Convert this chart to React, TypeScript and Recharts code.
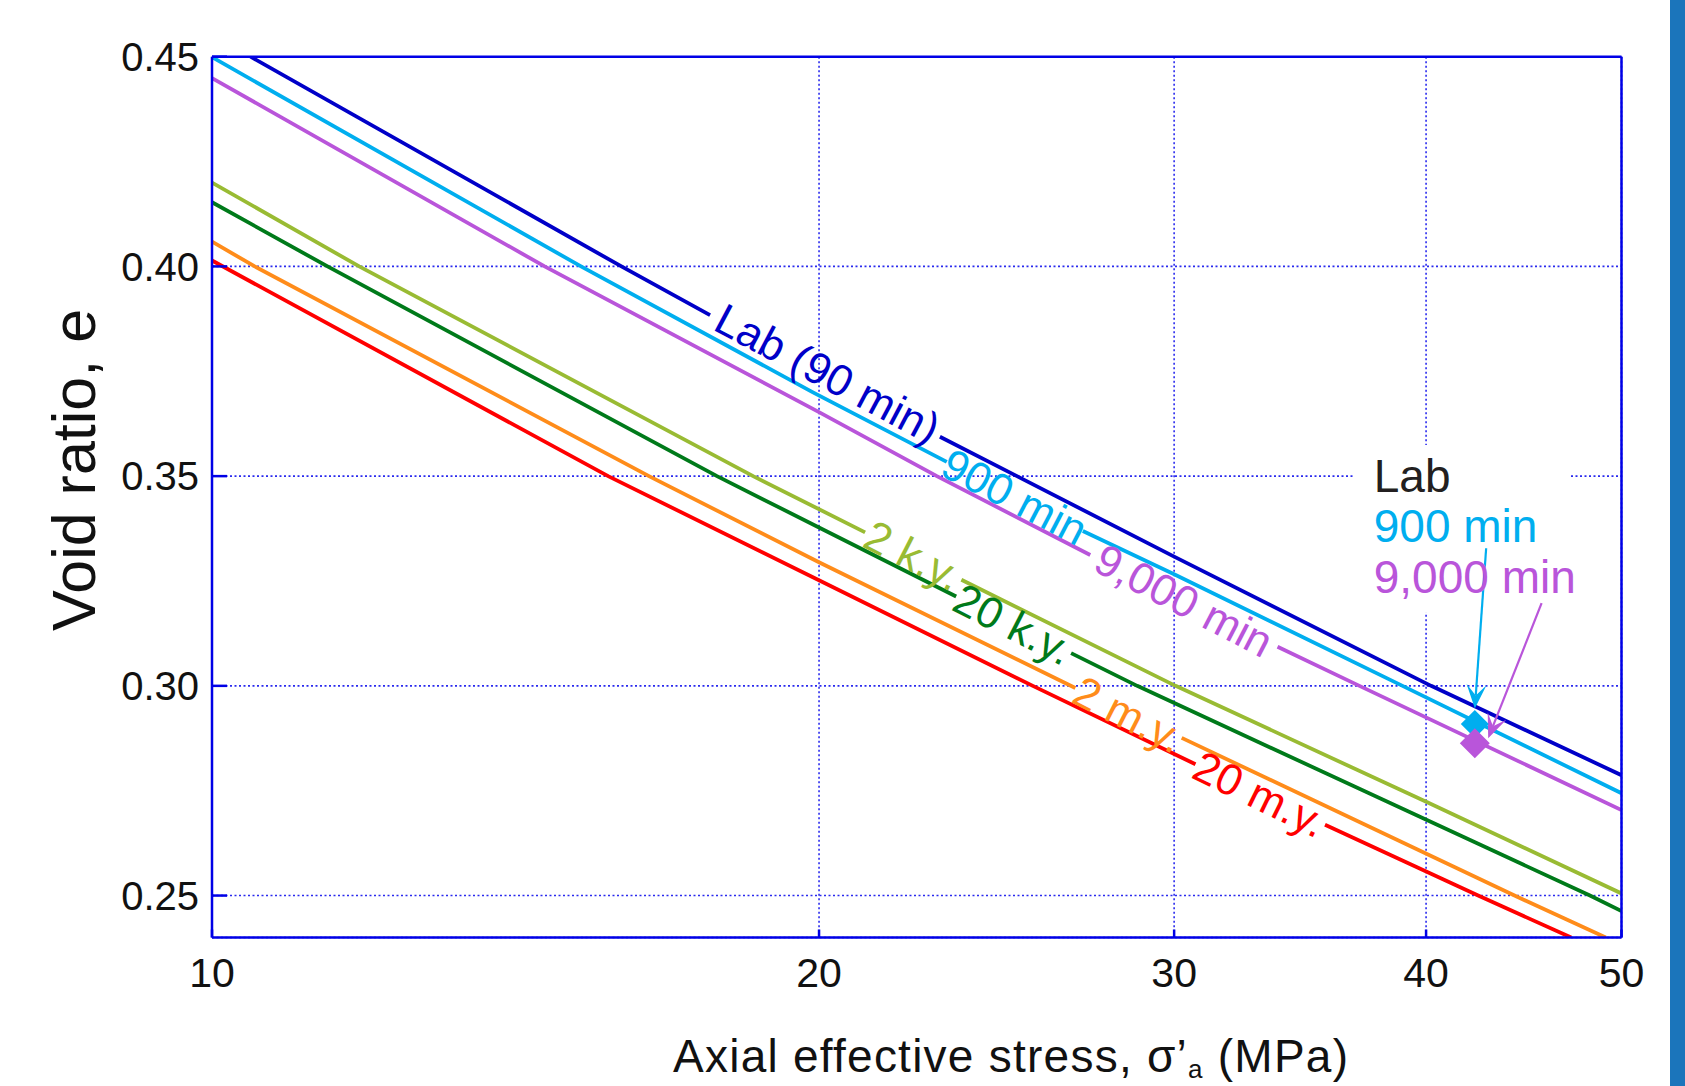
import React from 'react';
import {
  ComposedChart,
  Line,
  XAxis,
  YAxis,
  CartesianGrid,
  ReferenceDot,
  ReferenceLine,
  ReferenceArea,
  Scatter,
} from 'recharts';

// ---------- data ----------
const xTicks = [10, 20, 30, 40, 50];
const yTicks = [0.25, 0.3, 0.35, 0.4, 0.45];

// void ratio e vs axial effective stress s (MPa); null = break where the curve label sits
const lab90 = [
  { s: 10.45, e: 0.45 }, { s: 15.96, e: 0.4 }, { s: 17.66, e: 0.3884 }, { s: 20.1, e: null },
  { s: 22.96, e: 0.3594 }, { s: 25.07, e: 0.35 }, { s: 30.0, e: 0.3308 }, { s: 40.23, e: 0.3 },
  { s: 50.0, e: 0.2787 },
];
const min900 = [
  { s: 10.0, e: 0.4499 }, { s: 15.24, e: 0.4 }, { s: 19.84, e: 0.3701 }, { s: 23.14, e: 0.3534 },
  { s: 25.0, e: null }, { s: 27.03, e: 0.3369 }, { s: 30.0, e: 0.3266 }, { s: 38.94, e: 0.3 },
  { s: 50.0, e: 0.2744 },
];
const min9000 = [
  { s: 10.0, e: 0.4449 }, { s: 14.62, e: 0.4 }, { s: 20.01, e: 0.3652 }, { s: 22.88, e: 0.35 },
  { s: 27.26, e: 0.3312 }, { s: 30.0, e: null }, { s: 33.76, e: 0.3093 }, { s: 37.07, e: 0.3 },
  { s: 50.0, e: 0.2704 },
];
const ky2 = [
  { s: 10.0, e: 0.42 }, { s: 11.83, e: 0.4 }, { s: 18.55, e: 0.35 }, { s: 21.08, e: 0.3366 },
  { s: 22.3, e: null }, { s: 23.53, e: 0.3253 }, { s: 30.05, e: 0.3 }, { s: 40.03, e: 0.2723 },
  { s: 50.0, e: 0.2505 },
];
const ky20 = [
  { s: 10.0, e: 0.4153 }, { s: 11.41, e: 0.4 }, { s: 17.8, e: 0.35 }, { s: 20.01, e: 0.3377 },
  { s: 23.39, e: 0.3213 }, { s: 25.0, e: null }, { s: 26.67, e: 0.3078 }, { s: 28.76, e: 0.3 },
  { s: 48.23, e: 0.25 }, { s: 50.0, e: 0.2463 },
];
const my2 = [
  { s: 10.0, e: 0.4059 }, { s: 10.5, e: 0.4 }, { s: 16.47, e: 0.35 }, { s: 20.01, e: 0.3294 },
  { s: 26.8, e: 0.2995 }, { s: 28.5, e: null }, { s: 30.26, e: 0.2876 }, { s: 44.25, e: 0.25 },
  { s: 49.11, e: 0.24 },
];
const my20 = [
  { s: 10.0, e: 0.4014 }, { s: 15.72, e: 0.35 }, { s: 20.01, e: 0.3251 }, { s: 25.53, e: 0.3 },
  { s: 30.74, e: 0.2813 }, { s: 33.0, e: null }, { s: 35.64, e: 0.2669 }, { s: 42.45, e: 0.25 },
  { s: 47.21, e: 0.24 },
];

// lab measurements (diamonds)
const point900 = [{ s: 42.29, e: 0.2909 }];
const point9000 = [{ s: 42.29, e: 0.2863 }];

// callout arrows: [from, to]
const arrow900 = [{ s: 42.84, e: 0.3328 }, { s: 42.29, e: 0.2946 }];
const arrow9000 = [{ s: 45.64, e: 0.3197 }, { s: 42.94, e: 0.2875 }];

// curve label texts and where they sit on their curves
const curveNames = ['Lab (90 min)', '900 min', '9,000 min', '2 k.y.', '20 k.y.', '2 m.y.', '20 m.y.'];
const labelAnchorS = [20.2, 25.01, 30.34, 22.27, 24.97, 28.48, 33.09];
const labelAnchorE = [0.3745, 0.3451, 0.3204, 0.3311, 0.3147, 0.2932, 0.2742];

// inset legend
const legendNames = ['Lab', '900 min', '9,000 min'];
const legendAnchor = { s: 37.68, e: 0.3463 };
const legendBoxS = [36.88, 47.1];
const legendBoxE = [0.3174, 0.3574];

// ---------- styles ----------
const FONT = '"Liberation Sans", Arial, Helvetica, sans-serif';
const AXIS_BLUE = '#0000e6';
const GRID_BLUE = '#2a2aee';
const colors = ['#0000c8', '#00aeef', '#b955da', '#99bb33', '#007a1a', '#ff8c1a', '#ff0000'];
const labelAngles = [28, 27.5, 27.5, 27, 27, 27, 26];
const seriesData = [lab90, min900, min9000, ky2, ky20, my2, my20];

const Diamond = (half: number, fill: string) => (p: any) => {
  const { cx, cy } = p;
  if (cx == null || cy == null) return <g />;
  return (
    <polygon
      points={`${cx},${cy - half} ${cx + half},${cy} ${cx},${cy + half} ${cx - half},${cy}`}
      fill={fill}
    />
  );
};

const Arrow = (color: string) => (p: any) => {
  const x1 = Number(p.x1), y1 = Number(p.y1), x2 = Number(p.x2), y2 = Number(p.y2);
  const dx = x2 - x1, dy = y2 - y1;
  const len = Math.hypot(dx, dy) || 1;
  const ux = dx / len, uy = dy / len;
  const px = -uy, py = ux;
  const L = 24, W = 10, N = 13;
  const bx = x2 - ux * L, by = y2 - uy * L;
  const nx = x2 - ux * N, ny = y2 - uy * N;
  return (
    <g>
      <line x1={x1} y1={y1} x2={nx} y2={ny} stroke={color} strokeWidth={2.2} />
      <polygon
        points={`${x2},${y2} ${bx + px * W},${by + py * W} ${nx},${ny} ${bx - px * W},${by - py * W}`}
        fill={color}
      />
    </g>
  );
};

const CurveLabel = (text: string, color: string, angle: number) => (p: any) => {
  const { cx, cy } = p;
  return (
    <text
      x={cx}
      y={cy}
      transform={`rotate(${angle} ${cx} ${cy})`}
      textAnchor="middle"
      dominantBaseline="central"
      fill={color}
      fontSize={44}
      fontFamily={FONT}
    >
      {text}
    </text>
  );
};

const LegendText = (p: any) => {
  const { cx, cy } = p;
  const fills = ['#231f20', colors[1], colors[2]];
  const steps = [0, 50, 101.6];
  return (
    <g>
      {legendNames.map((n, i) => (
        <text key={n} x={cx} y={cy + steps[i]} fill={fills[i]} fontSize={46} fontFamily={FONT}>
          {n}
        </text>
      ))}
    </g>
  );
};

const XTitle = (props: any) => {
  const vb = props.viewBox || { x: 212, y: 937.5, width: 1409.5, height: 100 };
  return (
    <text
      x={vb.x + 461}
      y={vb.y + 134.5}
      fill="#111111"
      fontSize={46}
      fontFamily={FONT}
      textLength={675}
      lengthAdjust="spacing"
    >
      Axial effective stress, σ’
      <tspan dy={6} fontSize={26}>a</tspan>
      <tspan dy={-6}> (MPa)</tspan>
    </text>
  );
};

const YTitle = (props: any) => {
  const vb = props.viewBox || { x: 62, y: 56.7, width: 150, height: 880.8 };
  const x = vb.x + 32.5;
  const y = vb.y + 413.3;
  return (
    <text
      x={x}
      y={y}
      transform={`rotate(-90 ${x} ${y})`}
      textAnchor="middle"
      fill="#111111"
      fontSize={61}
      fontFamily={FONT}
    >
      Void ratio, e
    </text>
  );
};

export default function App() {
  return (
    <div style={{ position: 'absolute', left: 0, top: 0, width: 1685, height: 1086, background: '#ffffff' }}>
      <ComposedChart
        width={1685}
        height={1086}
        margin={{ top: 26.7, right: 33.5, bottom: 48.5, left: 62 }}
      >
        <CartesianGrid stroke={GRID_BLUE} strokeWidth={1.6} strokeDasharray="2 2.5" />
        <XAxis
          xAxisId={0}
          dataKey="s"
          type="number"
          scale="log"
          domain={[10, 50]}
          ticks={xTicks}
          interval={0}
          allowDataOverflow
          height={100}
          tickSize={-8}
          tickMargin={28.5}
          axisLine={{ stroke: AXIS_BLUE, strokeWidth: 2.5 }}
          tickLine={{ stroke: AXIS_BLUE, strokeWidth: 2.5 }}
          tick={{ fill: '#111111', fontSize: 41, fontFamily: FONT }}
          label={(p: any) => <XTitle {...p} />}
        />
        <XAxis
          xAxisId="top"
          orientation="top"
          dataKey="s"
          type="number"
          scale="log"
          domain={[10, 50]}
          ticks={xTicks}
          interval={0}
          allowDataOverflow
          height={30}
          tickSize={-8}
          axisLine={{ stroke: AXIS_BLUE, strokeWidth: 2.5 }}
          tickLine={{ stroke: AXIS_BLUE, strokeWidth: 2.5 }}
          tick={false}
        />
        <YAxis
          yAxisId={0}
          type="number"
          domain={[0.24, 0.45]}
          ticks={yTicks}
          interval={0}
          allowDataOverflow
          width={150}
          tickSize={-15}
          tickMargin={28}
          tickFormatter={(v: number) => v.toFixed(2)}
          axisLine={{ stroke: AXIS_BLUE, strokeWidth: 2.5 }}
          tickLine={{ stroke: AXIS_BLUE, strokeWidth: 2.5 }}
          tick={{ fill: '#111111', fontSize: 40, fontFamily: FONT }}
          label={(p: any) => <YTitle {...p} />}
        />
        <YAxis
          yAxisId="right"
          orientation="right"
          type="number"
          domain={[0.24, 0.45]}
          ticks={yTicks}
          interval={0}
          allowDataOverflow
          width={30}
          tickSize={-15}
          axisLine={{ stroke: AXIS_BLUE, strokeWidth: 2.5 }}
          tickLine={{ stroke: AXIS_BLUE, strokeWidth: 2.5 }}
          tick={false}
        />

        <ReferenceArea
          x1={legendBoxS[0]}
          x2={legendBoxS[1]}
          y1={legendBoxE[0]}
          y2={legendBoxE[1]}
          fill="#ffffff"
          fillOpacity={1}
          stroke="none"
          ifOverflow="visible"
        />

        {seriesData.map((d, i) => (
          <Line
            key={curveNames[i]}
            data={d}
            dataKey="e"
            type="linear"
            stroke={colors[i]}
            strokeWidth={3.8}
            dot={false}
            activeDot={false}
            connectNulls={false}
            isAnimationActive={false}
          />
        ))}

        {curveNames.map((n, i) => (
          <ReferenceDot
            key={'lbl' + n}
            x={labelAnchorS[i]}
            y={labelAnchorE[i]}
            shape={CurveLabel(n, colors[i], labelAngles[i])}
          />
        ))}

        <ReferenceDot x={legendAnchor.s} y={legendAnchor.e} shape={LegendText} />

        <Scatter data={point900} dataKey="e" shape={Diamond(14, colors[1])} isAnimationActive={false} />
        <Scatter data={point9000} dataKey="e" shape={Diamond(15, colors[2])} isAnimationActive={false} />

        <ReferenceLine
          segment={[{ x: arrow900[0].s, y: arrow900[0].e }, { x: arrow900[1].s, y: arrow900[1].e }]}
          ifOverflow="visible"
          shape={Arrow(colors[1])}
        />
        <ReferenceLine
          segment={[{ x: arrow9000[0].s, y: arrow9000[0].e }, { x: arrow9000[1].s, y: arrow9000[1].e }]}
          ifOverflow="visible"
          shape={Arrow(colors[2])}
        />
      </ComposedChart>
      <div style={{ position: 'absolute', left: 1670, top: 0, width: 15, height: 1086, background: '#1b75bb' }} />
    </div>
  );
}
